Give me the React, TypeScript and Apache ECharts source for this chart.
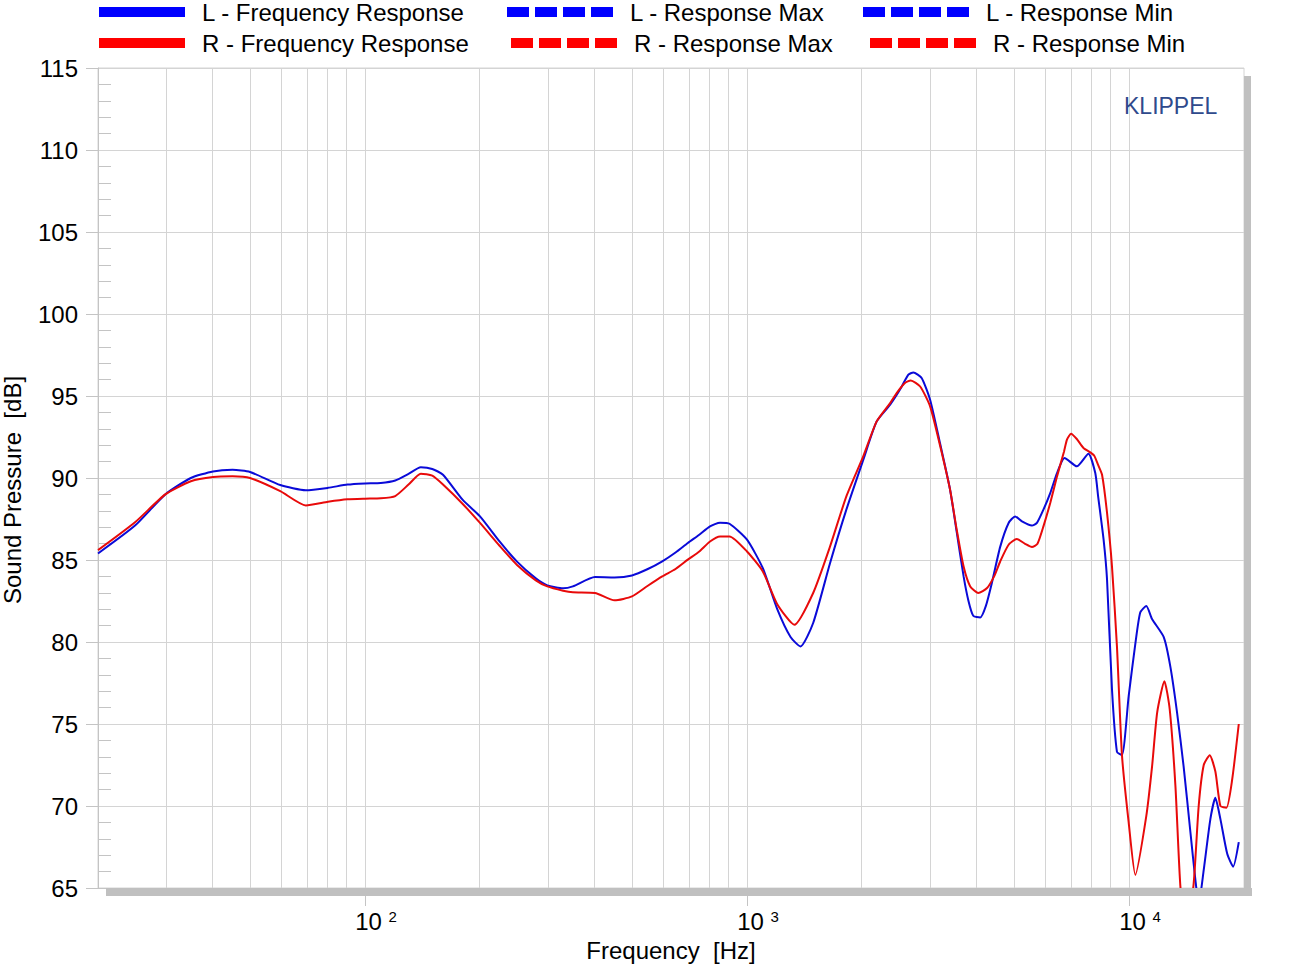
import React, { useEffect, useRef } from 'react';
import * as echarts from 'echarts';

// Frequencies (Hz) and levels (dB)
const freqL = [20, 25, 30, 35, 40, 45, 50, 60, 70, 80, 90, 100, 110, 120, 130, 140, 150, 160, 180, 200, 225, 250, 280, 300, 330, 350, 400, 450, 500, 550, 600, 650, 700, 750, 800, 850, 900, 1000, 1100, 1200, 1300, 1380, 1490, 1650, 1820, 2015, 2185, 2370, 2515, 2645, 2725, 2865, 3015, 3200, 3400, 3540, 3690, 3800, 3910, 4080, 4220, 4375, 4600, 4840, 5035, 5245, 5570, 5740, 5970, 6220, 6480, 6780, 7300, 7830, 8160, 8300, 8580, 8760, 9025, 9300, 9585, 9980, 10390, 10700, 11100, 11490, 12330, 12830, 13360, 13900, 14480, 14920, 15220, 15690, 16330, 16830, 17350, 18070, 18730, 19380];
const splL = [85.4, 87.1, 89.0, 90.0, 90.4, 90.5, 90.37, 89.57, 89.25, 89.4, 89.6, 89.67, 89.7, 89.85, 90.25, 90.65, 90.55, 90.2, 88.68, 87.66, 86.13, 84.9, 83.88, 83.45, 83.27, 83.39, 83.96, 83.94, 84.06, 84.45, 84.92, 85.46, 86.04, 86.54, 87.05, 87.27, 87.21, 86.24, 84.5, 82.0, 80.3, 79.73, 81.16, 84.82, 88.07, 91.1, 93.45, 94.47, 95.39, 96.3, 96.44, 96.1, 94.77, 92.13, 89.3, 86.7, 84.0, 82.5, 81.6, 81.5, 82.2, 83.6, 85.8, 87.26, 87.66, 87.35, 87.1, 87.26, 88.07, 89.08, 90.3, 91.22, 90.71, 91.48, 90.3, 88.9, 86.24, 83.8, 77.1, 73.3, 73.1, 76.7, 79.9, 81.8, 82.2, 81.4, 80.3, 78.5, 75.7, 72.4, 68.4, 65.5, 64.0, 66.1, 69.2, 70.5, 69.2, 67.1, 66.3, 67.8];

const freqR = [20, 25, 30, 35, 40, 45, 50, 60, 70, 80, 90, 100, 110, 120, 130, 140, 150, 160, 180, 200, 225, 250, 280, 300, 330, 350, 400, 450, 500, 550, 600, 650, 700, 750, 800, 850, 900, 1000, 1100, 1200, 1330, 1490, 1650, 1820, 2015, 2185, 2370, 2465, 2590, 2683, 2840, 3015, 3200, 3400, 3540, 3690, 3840, 4030, 4250, 4435, 4600, 4840, 5085, 5345, 5570, 5760, 5970, 6220, 6480, 6760, 6880, 7050, 7300, 7600, 7920, 8110, 8300, 8500, 8760, 9025, 9300, 9585, 9980, 10390, 11100, 11490, 11850, 12380, 12780, 13230, 13630, 14130, 14770, 15220, 15690, 16270, 16830, 17350, 17990, 18620, 19380];
const splR = [85.6, 87.3, 89.0, 89.8, 90.06, 90.1, 90.0, 89.2, 88.33, 88.55, 88.7, 88.74, 88.76, 88.9, 89.6, 90.26, 90.14, 89.6, 88.43, 87.26, 85.87, 84.7, 83.76, 83.39, 83.13, 83.03, 82.99, 82.54, 82.78, 83.43, 84.0, 84.45, 85.02, 85.52, 86.13, 86.44, 86.44, 85.52, 84.3, 82.3, 81.05, 82.99, 85.83, 88.88, 91.32, 93.45, 94.57, 95.18, 95.79, 95.95, 95.58, 94.37, 92.0, 89.3, 86.85, 84.6, 83.39, 82.99, 83.29, 84.0, 84.91, 85.93, 86.28, 85.99, 85.79, 85.99, 87.05, 88.48, 90.1, 91.62, 92.34, 92.7, 92.38, 91.83, 91.56, 91.36, 90.8, 90.2, 87.87, 84.6, 79.7, 73.1, 69.0, 65.8, 69.4, 72.4, 75.7, 77.6, 75.9, 71.2, 65.1, 62.0, 65.3, 70.0, 72.5, 73.1, 72.1, 70.0, 69.9, 71.6, 75.0];

const gridFreqs = [30, 40, 50, 60, 70, 80, 90, 100, 200, 300, 400, 500, 600, 700, 800, 900, 1000, 2000, 3000, 4000, 5000, 6000, 7000, 8000, 9000, 10000];
const decadeExponents = [2, 3, 4];
const freqMin = 20;
const freqMax = 20000;
const dbMin = 65;
const dbMax = 115;
const dbStep = 5;

const legendNames = [
  'L - Frequency Response', 'L - Response Max', 'L - Response Min',
  'R - Frequency Response', 'R - Response Max', 'R - Response Min',
];

const FONT = '"Liberation Sans", Arial, Helvetica, sans-serif';
const GRID = { left: 98, top: 68, width: 1146, height: 820 };
const BLUE = '#0000ff';
const RED = '#ff0000';
const GRIDC = '#d4d4d4';
const AXISC = '#c4c4c4';
const DASH = [22, 6];

function toXY(f: number[], v: number[]) {
  return f.map((x, i) => [Math.log10(x), v[i]]);
}

function legendItem(name: string, left: number, top: number, color: string, w: number) {
  return {
    data: [name],
    left, top,
    orient: 'horizontal',
    padding: 0,
    itemWidth: w,
    itemHeight: 10,
    selectedMode: false,
    lineStyle: { width: 10, color },
    itemStyle: { opacity: 0 },
    textStyle: { fontSize: 24, color: '#000', fontFamily: FONT, padding: [0, 0, 0, 12] },
  };
}

export default function App() {
  const ref = useRef<HTMLDivElement>(null);
  useEffect(() => {
    const chart = echarts.init(ref.current!, null, { renderer: 'svg' });
    const option: any = {
      animation: false,
      backgroundColor: '#fff',
      grid: {
        ...GRID, show: true, backgroundColor: '#fff', borderColor: GRIDC, borderWidth: 1,
        containLabel: false, outerBoundsMode: 'none',
      },
      legend: [
        legendItem(legendNames[0], 94, 0, BLUE, 86),
        legendItem(legendNames[1], 502, 0, BLUE, 106),
        legendItem(legendNames[2], 858, 0, BLUE, 106),
        legendItem(legendNames[3], 94, 31, RED, 86),
        legendItem(legendNames[4], 506, 31, RED, 106),
        legendItem(legendNames[5], 865, 31, RED, 106),
      ],
      xAxis: {
        type: 'value',
        min: Math.log10(freqMin),
        max: Math.log10(freqMax),
        splitLine: { show: false },
        axisLine: { show: true, lineStyle: { color: AXISC } },
        axisTick: { show: true, customValues: decadeExponents, length: 18, lineStyle: { color: AXISC } },
        axisLabel: {
          customValues: decadeExponents,
          formatter: (v: number) => `10 {sup|${Math.round(v)}}`,
          margin: 21,
          padding: [0, 0, 0, 22],
          fontSize: 24,
          color: '#000',
          fontFamily: FONT,
          rich: { sup: { fontSize: 15, verticalAlign: 'top', color: '#000', fontFamily: FONT } },
        },
        name: 'Frequency  [Hz]',
        nameLocation: 'middle',
        nameGap: 50,
        nameMoveOverlap: false,
        nameTextStyle: { fontSize: 24, color: '#000', fontFamily: FONT },
      },
      yAxis: [
        {
          type: 'value', min: dbMin, max: dbMax, interval: dbStep,
          axisLine: { show: true, lineStyle: { color: AXISC } },
          axisTick: { show: true, length: 12, lineStyle: { color: AXISC } },
          axisLabel: { fontSize: 24, margin: 20, color: '#000', fontFamily: FONT, padding: [0, 0, 5, 0] },
          splitLine: { show: true, lineStyle: { color: GRIDC } },
          name: 'Sound Pressure  [dB]',
          nameLocation: 'middle',
          nameGap: 74,
          nameRotate: 90,
          nameMoveOverlap: false,
          nameTextStyle: { fontSize: 24, color: '#000', fontFamily: FONT, padding: [0, 24, 0, 0] },
        },
        {
          type: 'value', min: dbMin, max: dbMax, interval: dbStep, position: 'left', offset: 0,
          axisLine: { show: false },
          axisTick: { show: false, inside: true },
          axisLabel: { show: false },
          splitLine: { show: false },
          minorTick: { show: true, splitNumber: 5, length: 13, lineStyle: { color: AXISC } },
        },
      ],
      graphic: [
        { type: 'rect', z: 50, shape: { x: GRID.left + 8, y: GRID.top + GRID.height, width: GRID.width, height: 8 }, style: { fill: '#c0c0c0' } },
        { type: 'rect', z: 50, shape: { x: GRID.left + GRID.width, y: GRID.top + 8, width: 7, height: GRID.height }, style: { fill: '#c0c0c0' } },
        { type: 'text', z: 50, x: 1124, y: 106, style: { text: 'KLIPPEL', fontSize: 23, fontFamily: FONT, fill: '#2f4a8c', verticalAlign: 'middle' } },
      ],
      series: [
        {
          name: 'gridlines', type: 'line', data: [], z: 1, silent: true,
          markLine: {
            silent: true, z: 1, symbol: ['none', 'none'], label: { show: false },
            lineStyle: { color: GRIDC, type: 'solid', width: 1 },
            emphasis: { disabled: true },
            data: gridFreqs.map((f) => ({ xAxis: Math.log10(f) })),
          },
        },
        {
          name: legendNames[0], type: 'line', data: toXY(freqL, splL), symbol: 'none', smooth: 0.2,
          lineStyle: { width: 2, color: '#0a0ad8' }, itemStyle: { color: BLUE }, z: 3, clip: true,
        },
        {
          name: legendNames[3], type: 'line', data: toXY(freqR, splR), symbol: 'none', smooth: 0.2,
          lineStyle: { width: 2, color: '#e80a0a' }, itemStyle: { color: RED }, z: 4, clip: true,
        },
        { name: legendNames[1], type: 'line', data: [], symbol: 'none', lineStyle: { type: DASH, width: 2, color: BLUE }, itemStyle: { color: BLUE } },
        { name: legendNames[2], type: 'line', data: [], symbol: 'none', lineStyle: { type: DASH, width: 2, color: BLUE }, itemStyle: { color: BLUE } },
        { name: legendNames[4], type: 'line', data: [], symbol: 'none', lineStyle: { type: DASH, width: 2, color: RED }, itemStyle: { color: RED } },
        { name: legendNames[5], type: 'line', data: [], symbol: 'none', lineStyle: { type: DASH, width: 2, color: RED }, itemStyle: { color: RED } },
      ],
    };
    chart.setOption(option);
    return () => chart.dispose();
  }, []);
  return <div ref={ref} style={{ position: 'absolute', left: 0, top: 0, width: 1300, height: 975 }} />;
}
